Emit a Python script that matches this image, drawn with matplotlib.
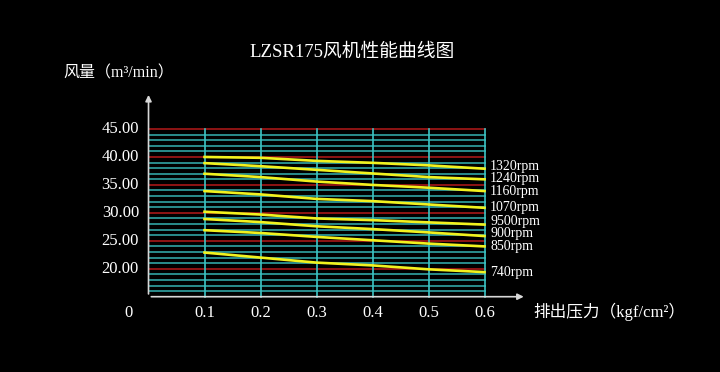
import matplotlib.pyplot as plt

pressure = [0.1, 0.2, 0.3, 0.4, 0.5, 0.6]
speeds = ["1320rpm", "1240rpm", "1160rpm", "1070rpm", "9500rpm", "900rpm", "850rpm", "740rpm"]
flow = [
    [40.0, 39.85, 39.3, 38.95, 38.5, 37.9],
    [38.9, 38.35, 37.7, 37.05, 36.4, 36.0],
    [37.0, 36.4, 35.6, 35.0, 34.5, 33.9],
    [33.9, 33.3, 32.5, 32.1, 31.5, 30.9],
    [30.2, 29.7, 29.0, 28.7, 28.3, 27.9],
    [28.9, 28.35, 27.6, 27.1, 26.5, 25.85],
    [26.9, 26.4, 25.7, 25.1, 24.5, 24.0],
    [22.9, 22.0, 21.1, 20.6, 19.9, 19.4],
]
yticks = [20, 25, 30, 35, 40, 45]
xticks = [0.1, 0.2, 0.3, 0.4, 0.5, 0.6]

# small vertical nudges so the rpm labels do not collide
label_shift = [0.35, 0.1, 0.0, 0.0, 0.5, 0.5, 0.0, -0.1]

FONT = ["Liberation Serif", "Noto Sans CJK SC", "DejaVu Sans"]
plt.rcParams["font.family"] = FONT

fig = plt.figure(figsize=(7.2, 3.72), dpi=100, facecolor="black")
ax = fig.add_axes([0, 0, 1, 1])
ax.set_facecolor("black")
ax.set_xlim(-0.2652, 1.0205)
ax.set_ylim(1.53, 68.08)
ax.axis("off")

y0 = 15
# horizontal grid lines every 1 unit, red on the multiples of 5
for v in range(16, 46):
    c = "#8e1414" if v % 5 == 0 else "#2a8c8c"
    ax.plot([0, 0.6], [v, v], color=c, lw=1.4, zorder=1)
# vertical grid lines
for x in xticks:
    ax.plot([x, x], [y0, 45], color="#3cc4c4", lw=1.2, zorder=2)

# axes with arrows
ax.annotate("", xy=(0, 51.6), xytext=(0, y0),
            arrowprops=dict(arrowstyle="-|>", color="#d8d8d8", lw=1.2, mutation_scale=9), zorder=3)
ax.annotate("", xy=(0.675, y0), xytext=(0, y0),
            arrowprops=dict(arrowstyle="-|>", color="#d8d8d8", lw=1.2, mutation_scale=9), zorder=3)

# curves
for name, vals, dy in zip(speeds, flow, label_shift):
    ax.plot(pressure, vals, color="#f2f21e", lw=1.9, zorder=4)
    ax.text(0.61, vals[-1] + dy, name, color="white", fontsize=10, va="center", ha="left")

# tick labels
for v in yticks:
    ax.text(-0.017, v, f"{v:.2f}", color="white", fontsize=12, ha="right", va="center")
for x in xticks:
    ax.text(x, 12.0, f"{x:.1f}", color="white", fontsize=12, ha="center", va="center")
ax.text(-0.035, 12.0, "0", color="white", fontsize=12, ha="center", va="center")

ax.text(0.687, 12.3, "排出压力（kgf/cm²）", color="white", fontsize=12, ha="left", va="center")
ax.text(-0.152, 55.0, "风量（m³/min）", color="white", fontsize=11.5, ha="left", va="center")
ax.text(0.363, 58.8, "LZSR175风机性能曲线图", color="white", fontsize=13.5, ha="center", va="center")

fig.savefig("out.png", dpi=100, facecolor="black")
